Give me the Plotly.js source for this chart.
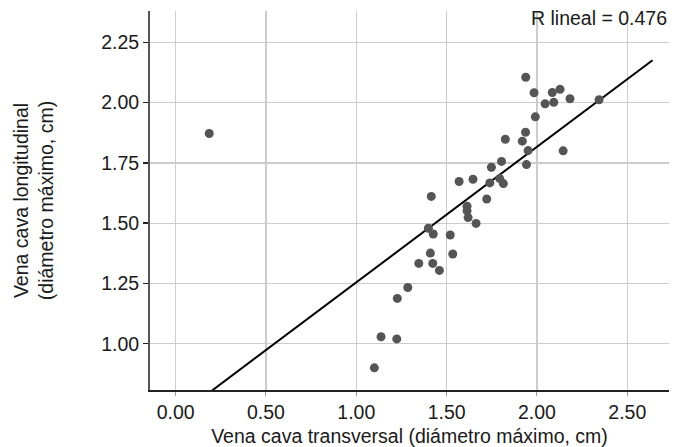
<!DOCTYPE html>
<html>
<head>
<meta charset="utf-8">
<script src="https://cdn.plot.ly/plotly-3.0.1.min.js"></script>
<style>
html,body{margin:0;padding:0;background:#fff;}
#chart{width:686px;height:447px;}
</style>
</head>
<body>
<div id="chart"></div>
<script>
// Vena cava transversal (x) vs longitudinal (y), diámetro máximo en cm
var transversal = [0.186, 1.100, 1.137, 1.224, 1.227, 1.285, 1.346, 1.423, 1.460, 1.410,
  1.534, 1.399, 1.426, 1.520, 1.415, 1.613, 1.613, 1.619, 1.663, 1.722,
  1.569, 1.646, 1.739, 1.794, 1.814, 1.748, 1.804, 1.942, 1.951, 2.145,
  1.825, 1.919, 1.937, 1.991, 1.938, 1.984, 2.045, 2.093, 2.085, 2.128,
  2.183, 2.344];
var longitudinal = [1.872, 0.900, 1.029, 1.020, 1.188, 1.233, 1.333, 1.333, 1.304, 1.376,
  1.372, 1.479, 1.455, 1.451, 1.611, 1.570, 1.551, 1.523, 1.499, 1.600,
  1.673, 1.682, 1.667, 1.685, 1.664, 1.732, 1.756, 1.743, 1.801, 1.800,
  1.848, 1.840, 1.877, 1.941, 2.105, 2.041, 1.995, 2.001, 2.042, 2.055,
  2.016, 2.012];
// Fitted regression line
var fitX = [0.186, 2.64];
var fitY = [0.797, 2.176];
var rLabel = "R lineal = 0.476";
var xTitle = "Vena cava transversal (diámetro máximo, cm)";
var yTitle = "Vena cava longitudinal<br>(diámetro máximo, cm)";

var font = "Liberation Sans, Arial, Helvetica, sans-serif";
var traces = [
  {x: fitX, y: fitY, mode: "lines", type: "scatter",
   line: {color: "#000", width: 2}, hoverinfo: "skip", showlegend: false},
  {x: transversal, y: longitudinal, mode: "markers", type: "scatter",
   marker: {color: "#555555", size: 9}, showlegend: false}
];
var layout = {
  width: 686, height: 447,
  margin: {l: 150, r: 17, t: 11, b: 57},
  paper_bgcolor: "#fff", plot_bgcolor: "#fff",
  font: {family: font, size: 19.5, color: "#1a1a1a"},
  xaxis: {
    range: [-0.142, 2.731], dtick: 0.5, tick0: 0, tickformat: ".2f",
    showgrid: true, gridcolor: "#cccccc", gridwidth: 1.3,
    zeroline: false, showline: true, linecolor: "#222", linewidth: 2,
    ticks: "outside", ticklen: 4, tickcolor: "#999", tickwidth: 1,
    tickfont: {family: font, size: 19.5, color: "#1a1a1a"},
    title: {text: xTitle, font: {family: font, size: 19.5, color: "#1a1a1a"}, standoff: 8}
  },
  yaxis: {
    range: [0.808, 2.380], dtick: 0.25, tick0: 0, tickformat: ".2f",
    showgrid: true, gridcolor: "#cccccc", gridwidth: 1.3,
    zeroline: false, showline: true, linecolor: "#555", linewidth: 2,
    ticks: "outside", ticklen: 5, tickcolor: "#222", tickwidth: 1.5,
    tickfont: {family: font, size: 19.5, color: "#1a1a1a"},
    title: {text: yTitle, font: {family: font, size: 19.5, color: "#1a1a1a"}, standoff: 42}
  },
  annotations: [{
    text: rLabel, xref: "paper", yref: "paper", x: 1, y: 0.981,
    xanchor: "right", yanchor: "middle", showarrow: false,
    font: {family: font, size: 19.5, color: "#1a1a1a"}
  }]
};
Plotly.newPlot("chart", traces, layout, {displayModeBar: false, staticPlot: true});
</script>
</body>
</html>
